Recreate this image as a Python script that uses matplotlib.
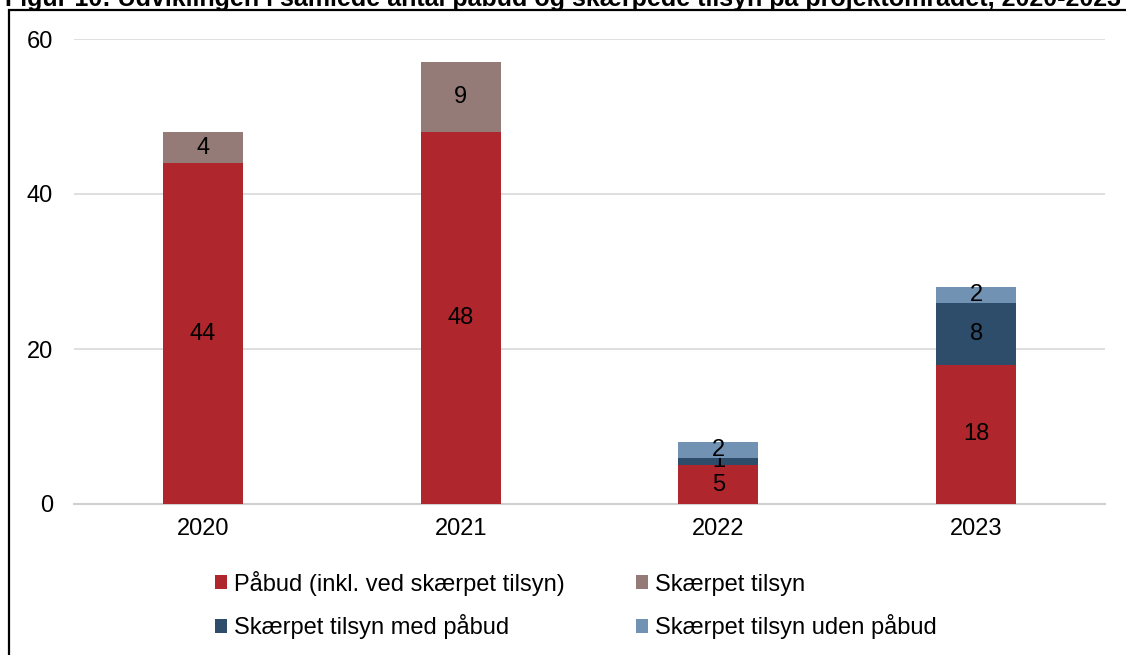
import matplotlib.pyplot as plt
from matplotlib.patches import Rectangle

plt.rcParams['font.family'] = ['Liberation Sans', 'DejaVu Sans']

years = ['2020', '2021', '2022', '2023']
pabud = [44, 48, 5, 18]
skaerpet = [4, 9, 0, 0]
skaerpet_med = [0, 0, 1, 8]
skaerpet_uden = [0, 0, 2, 2]

series = [
    ('Påbud (inkl. ved skærpet tilsyn)', pabud, '#B0262D'),
    ('Skærpet tilsyn', skaerpet, '#957B77'),
    ('Skærpet tilsyn med påbud', skaerpet_med, '#2E4D6B'),
    ('Skærpet tilsyn uden påbud', skaerpet_uden, '#7292B3'),
]

fig = plt.figure(figsize=(11.26, 6.55), dpi=100)
ax = fig.add_axes([74/1126, 1-504/655, (1105-74)/1126, (504-39)/655])

x = range(len(years))
bottom = [0]*len(years)
handles = []
for name, vals, col in series:
    bars = ax.bar(x, vals, 0.31, bottom=bottom, color=col, label=name, zorder=3)
    labels = [str(v) if v else '' for v in vals]
    ax.bar_label(bars, labels=labels, label_type='center', fontsize=17, color='black')
    handles.append(bars)
    bottom = [b+v for b, v in zip(bottom, vals)]

ax.set_xlim(-0.5, 3.5)
ax.set_ylim(0, 60)
ax.set_yticks([0, 20, 40, 60])
ax.set_xticks(list(x))
ax.set_xticklabels(years)
ax.tick_params(axis='both', length=0, labelsize=17)
ax.tick_params(axis='y', pad=15)
ax.tick_params(axis='x', pad=10)
ax.yaxis.grid(True, color='#D9D9D9', linewidth=1.2, zorder=0)
for s in ['top', 'right', 'left']:
    ax.spines[s].set_visible(False)
ax.spines['bottom'].set_color('#D0D0D0')
ax.spines['bottom'].set_linewidth(1.5)

# legend fills column-wise, so reorder to get row-wise layout
order = [0, 2, 1, 3]
fig.legend(handles=[handles[i] for i in order], loc='center',
           bbox_to_anchor=(576/1126, 1-605/655),
           ncol=2, frameon=False, fontsize=17, handlelength=0.5, handleheight=0.5,
           handletextpad=0.3, columnspacing=3.0, labelspacing=0.8)

# outer frame, cut off at right and bottom
fig.patches.append(Rectangle((9/1126, -0.1), 1.2, 1.1 - 10/655,
                             transform=fig.transFigure, fill=False,
                             edgecolor='black', linewidth=1.6, clip_on=False))

fig.text(5/1126, 1-6/655, 'Figur 10: Udviklingen i samlede antal påbud og skærpede tilsyn på projektområdet, 2020-2023',
         fontsize=18, fontweight='bold', va='baseline', ha='left')

fig.savefig('out.png', dpi=100)
